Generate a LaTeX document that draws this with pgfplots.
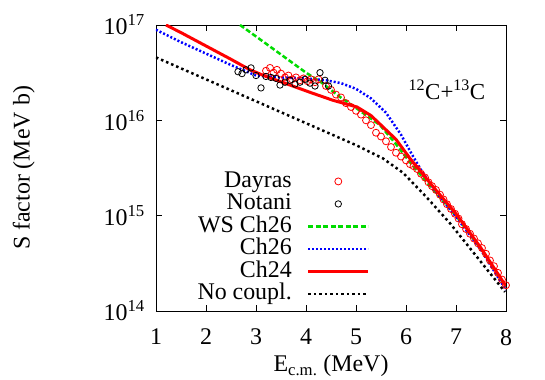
\documentclass[border=0pt]{standalone}
\usepackage{fontspec}
\setmainfont{Liberation Serif}
\usepackage{pgfplots}
\pgfplotsset{compat=1.18}
\definecolor{wsgreen}{RGB}{0,220,0}
\definecolor{chblue}{RGB}{0,0,255}
\definecolor{chred}{RGB}{255,0,0}
\pgfplotsset{
  lineleg/.style={legend image code/.code={\draw[##1] (0bp,0bp) -- (60bp,0bp);}},
  markleg/.style={legend image code/.code={\draw[##1] plot coordinates {(30bp,0bp)};}},
}
\newcommand\bigfont{\fontsize{24}{28}\selectfont}
\newcommand\tickfont{\fontsize{24}{28}\selectfont}
\begin{document}
\bigfont
\begin{tikzpicture}[font=\bigfont]
\useasboundingbox (-156bp,-69bp) rectangle (389bp,311bp);
\begin{axis}[
  at={(0,0)}, anchor=south west,
  width=350bp, height=286bp, scale only axis,
  xmin=1, xmax=8,
  ymode=log, ymin=1e14, ymax=1e17,
  xtick={1,2,3,4,5,6,7,8},
  ytick={1e14,1e15,1e16,1e17},
  yticklabels={10\textsuperscript{14},10\textsuperscript{15},10\textsuperscript{16},10\textsuperscript{17}},
  yminorticks=false,
  /pgf/number format/assume math mode=true,
  tick label style={font=\tickfont},
  xticklabel style={yshift=-10bp},
  yticklabel style={xshift=-3bp},
  tick align=inside, major tick length=6bp,
  tick style={black, line width=0.6bp},
  axis line style={line width=0.8bp},
  xlabel={E\textsubscript{c.m.} (MeV)},
  ylabel={S factor (MeV b)},
  label style={font=\bigfont},
  xlabel style={at={(axis description cs:0.5,-0.193)}, anchor=center},
  ylabel style={at={(axis description cs:-0.378,0.5)}, anchor=center},
  legend plot pos=right,
  legend cell align=right,
  legend style={draw=none, fill=none, font=\bigfont,
    at={(axis description cs:0.62,0.50)}, anchor=north east,
    row sep=0bp, column sep=15bp, nodes={inner sep=0pt, text height=17bp, text depth=5.5bp}},
]
% Dayras
\addplot[only marks, mark=o, mark size=3.5bp, color=chred, line width=0.8bp, markleg]
coordinates {
(3.20,3.311e16) (3.28,3.548e16) (3.35,3.162e16) (3.42,3.388e16) (3.50,3.090e16)
(3.58,2.818e16) (3.65,2.951e16) (3.72,2.692e16) (3.80,2.818e16) (3.88,2.630e16)
(3.95,2.754e16) (4.03,2.570e16) (4.10,2.692e16) (4.18,2.512e16) (4.25,2.692e16)
(4.40,2.291e16) (4.50,2.089e16) (4.60,1.862e16) (4.70,1.738e16) (4.80,1.514e16)
(4.90,1.380e16) (5.00,1.259e16) (5.10,1.148e16) (5.20,1.000e16) (5.30,8.913e15)
(5.40,7.413e15) (5.50,6.761e15) (5.60,6.026e15) (5.70,5.248e15) (5.80,4.571e15)
(5.90,4.169e15) (6.00,3.802e15) (6.08,3.467e15) (6.15,3.311e15) (6.22,3.090e15)
(6.30,2.754e15) (6.38,2.512e15) (6.45,2.239e15) (6.52,2.042e15) (6.60,1.862e15)
(6.68,1.660e15) (6.75,1.479e15) (6.82,1.318e15) (6.90,1.175e15) (6.98,1.047e15)
(7.05,9.333e14) (7.12,8.128e14) (7.20,7.244e14) (7.28,6.457e14) (7.36,5.754e14)
(7.44,5.129e14) (7.52,4.571e14) (7.60,3.981e14) (7.68,3.388e14) (7.76,2.951e14)
(7.84,2.512e14) (7.92,2.138e14) (8.00,1.862e14)
};
\addlegendentry{Dayras}
% Notani
\addplot[only marks, mark=o, mark size=3.2bp, color=black, line width=0.8bp, markleg]
coordinates {
(2.64,3.236e16) (2.72,3.090e16) (2.80,3.388e16) (2.90,3.548e16) (3.00,2.951e16)
(3.10,2.188e16) (3.20,2.884e16) (3.30,2.818e16) (3.40,2.754e16) (3.48,2.344e16)
(3.58,2.512e16) (3.68,2.630e16) (3.78,2.399e16) (3.88,2.512e16) (3.98,2.692e16)
(4.08,2.455e16) (4.18,2.291e16) (4.28,3.162e16) (4.38,2.630e16) (4.45,2.291e16)
};
\addlegendentry{Notani}
% WS Ch26
\addplot[color=wsgreen, line width=2.5bp, dash pattern=on 5bp off 2.5bp, lineleg]
coordinates {
(2.68,1.0e17) (3.0,7.586e16) (3.5,4.898e16) (4.0,3.162e16) (4.3,2.512e16)
(4.68,1.758e16) (5.0,1.349e16) (5.48,8.913e15) (5.8,5.623e15) (6.08,3.631e15)
(6.5,1.995e15) (7.0,1.0e15) (7.5,4.467e14) (8.0,1.778e14)
};
\addlegendentry{WS Ch26}
% Ch26
\addplot[color=chblue, line width=2.5bp, dash pattern=on 2bp off 2bp, lineleg]
coordinates {
(1.0,8.913e16) (1.5,6.607e16) (2.0,5.012e16) (2.5,3.802e16) (3.0,2.951e16)
(3.5,2.818e16) (4.0,2.754e16) (4.4,2.630e16) (4.7,2.455e16) (5.0,2.138e16)
(5.3,1.698e16) (5.6,1.202e16) (5.9,7.079e15) (6.1,4.571e15) (6.3,3.020e15)
(6.6,1.778e15) (7.0,9.772e14) (7.5,4.365e14) (8.0,1.660e14)
};
\addlegendentry{Ch26}
% Ch24
\addplot[color=chred, line width=3bp, lineleg]
coordinates {
(1.2,1.0e17) (1.5,8.318e16) (2.0,6.026e16) (2.5,4.365e16) (2.88,3.388e16)
(3.2,2.884e16) (3.68,2.344e16) (4.1,1.950e16) (4.54,1.622e16) (5.02,1.380e16)
(5.3,1.122e16) (5.54,8.511e15) (5.8,6.310e15) (6.08,3.981e15) (6.5,2.138e15)
(7.0,1.047e15) (7.5,4.571e14) (8.0,1.820e14)
};
\addlegendentry{Ch24}
% No coupling
\addplot[color=black, line width=2.5bp, dash pattern=on 2.5bp off 3bp, lineleg]
coordinates {
(1.0,4.571e16) (2.0,2.692e16) (3.0,1.585e16) (4.0,9.333e15) (5.0,5.495e15)
(5.54,3.981e15) (5.94,2.818e15) (6.4,1.585e15) (6.88,8.318e14) (7.4,3.802e14)
(7.98,1.585e14)
};
\addlegendentry{No coupl.}
\node[anchor=center, font=\fontsize{23}{27}\selectfont] at (axis cs:6.82,2.1e16) {\textsuperscript{12}C+\textsuperscript{13}C};
\end{axis}
\end{tikzpicture}
\end{document}
